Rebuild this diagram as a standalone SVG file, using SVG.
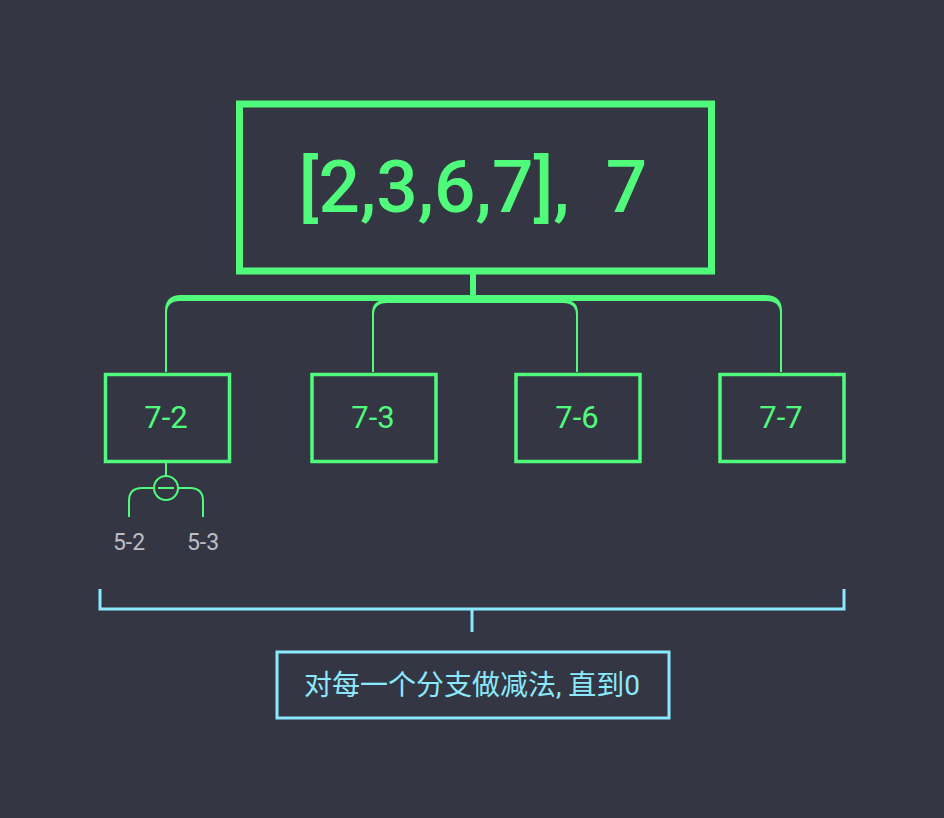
<svg xmlns="http://www.w3.org/2000/svg" width="944" height="818" viewBox="0 0 944 818">
<style>
.g{fill:none;stroke:#50FA7B}
.gf{fill:#50FA7B}
.c{fill:none;stroke:#8BE9FD;stroke-width:3}
.t{font-family:Roboto,"Noto Sans CJK SC",sans-serif;text-anchor:middle}
</style>
<rect width="944" height="818" fill="#343644"/>
<g id="connectors">
<line class="g" x1="473" y1="271" x2="473" y2="298" stroke-width="6"/>
<path class="gf" d="M165,372 V311 Q165,295 181,295 H765 Q782,295 782,311 V372 H780 V313 Q780,301 766,301 H180 Q167,301 167,313 V372 Z"/>
<path class="gf" d="M372,372 V313 Q372,300 386,300 H564 Q578,300 578,313 V372 H576 V315 Q576,303 563,303 H387 Q374,303 374,315 V372 Z"/>
<line class="g" x1="166" y1="462" x2="166" y2="476" stroke-width="2"/>
<path class="g" stroke-width="2" d="M154,488 H142 Q129,488 129,501 V517"/>
<path class="g" stroke-width="2" d="M178,488 H190 Q203,488 203,501 V517"/>
<path class="c" d="M100,589 V609 H844 V589"/>
<line class="c" x1="472" y1="609" x2="472" y2="632"/>
</g>
<g id="root">
<rect class="g" x="239.5" y="104" width="472" height="167" stroke-width="7"/>
<text class="t" x="473" y="212" font-size="73" font-weight="500" fill="#50FA7B" style="white-space:pre">[2,3,6,7],  7</text>
</g>
<g id="n72">
<rect class="g" x="105.5" y="374.5" width="124" height="87" stroke-width="3.5"/>
<text class="t" x="166" y="428" font-size="31" fill="#50FA7B">7-2</text>
</g>
<g id="n73">
<rect class="g" x="312" y="374.5" width="124" height="87" stroke-width="3.5"/>
<text class="t" x="373" y="428" font-size="31" fill="#50FA7B">7-3</text>
</g>
<g id="n76">
<rect class="g" x="516" y="374.5" width="124" height="87" stroke-width="3.5"/>
<text class="t" x="577" y="428" font-size="31" fill="#50FA7B">7-6</text>
</g>
<g id="n77">
<rect class="g" x="720" y="374.5" width="124" height="87" stroke-width="3.5"/>
<text class="t" x="781" y="428" font-size="31" fill="#50FA7B">7-7</text>
</g>
<g id="minus">
<circle class="g" cx="166" cy="488" r="12" stroke-width="2"/>
<line class="g" x1="158" y1="488" x2="174" y2="488" stroke-width="2"/>
</g>
<g id="n52">
<text class="t" x="129" y="550" font-size="23" fill="#BDBDC4">5-2</text>
</g>
<g id="n53">
<text class="t" x="203" y="550" font-size="23" fill="#BDBDC4">5-3</text>
</g>
<g id="note">
<rect class="c" x="277" y="652" width="392" height="66"/>
<text class="t" x="472" y="695" font-size="28" fill="#8BE9FD">对每一个分支做减法, 直到0</text>
</g>
</svg>
